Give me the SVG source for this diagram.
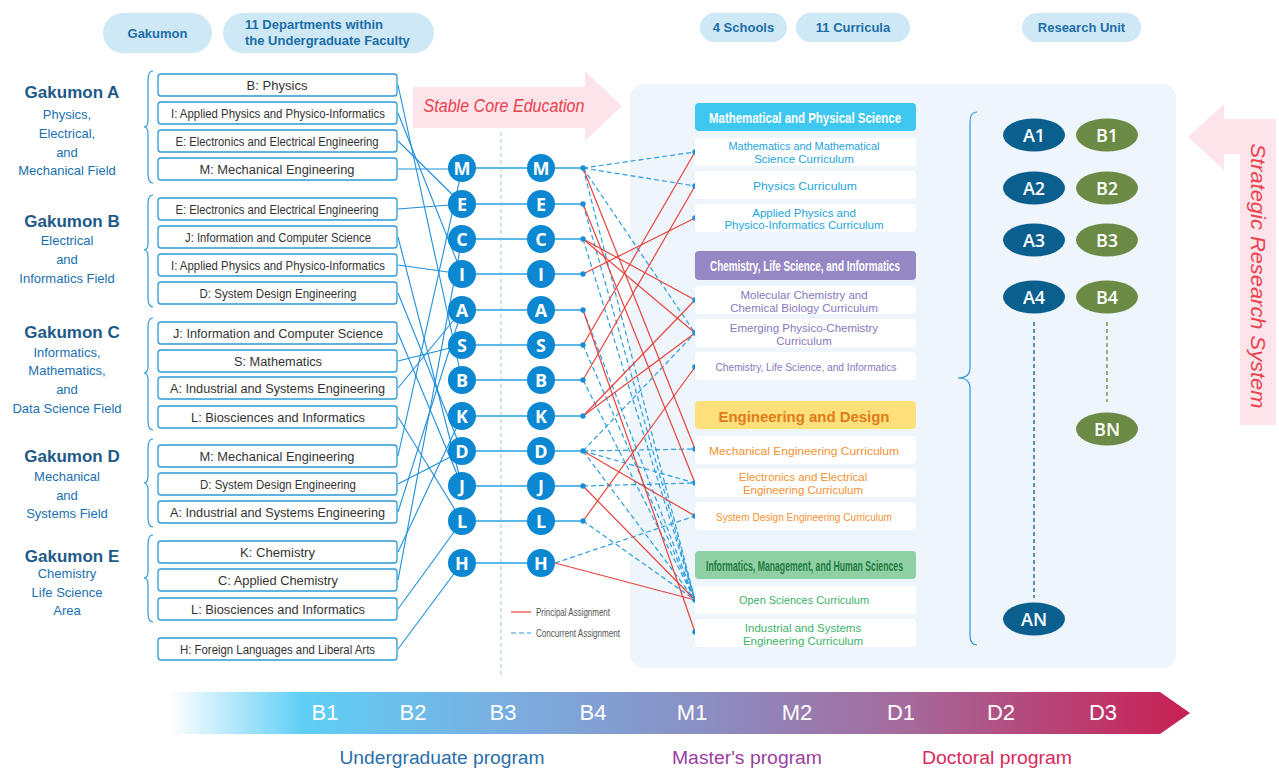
<svg xmlns="http://www.w3.org/2000/svg" width="1279" height="768" viewBox="0 0 1279 768">
<defs>
<style>
.pill{fill:#cfe8f5}
.pt{font-family:"Liberation Sans",Arial,sans-serif;font-weight:bold;font-size:13px;fill:#1a6ea8}
.gt{font-family:"Liberation Sans",Arial,sans-serif;font-weight:bold;font-size:17px;fill:#1e5a88;text-anchor:middle}
.gs{font-family:"Liberation Sans",Arial,sans-serif;font-size:13px;fill:#1a70b0;text-anchor:middle}
.brace{fill:none;stroke:#2a9ad8;stroke-width:1.2}
.box{fill:#fff;stroke:#2a9ad8;stroke-width:1.3}
.dt{font-family:"Liberation Sans",Arial,sans-serif;font-size:12.5px;fill:#333;text-anchor:middle}
.lk{stroke:#1e8fd8;stroke-width:1.1;fill:none}
.row{stroke:#5bb8e8;stroke-width:2;fill:none}
.red{stroke:#e8433f;stroke-width:1.2;fill:none}
.dash{stroke:#2a9de0;stroke-width:1.2;stroke-dasharray:5 3;fill:none}
.nd{fill:#0b88d1}
.nt{font-family:"Open Sans","Liberation Sans",sans-serif;font-weight:bold;font-size:18px;fill:#fff;text-anchor:middle}
.dot{fill:#1a8fd6}
.cb{fill:#fff}
.ct{font-family:"Liberation Sans",Arial,sans-serif;font-size:11.5px;text-anchor:middle}
.sh{font-family:"Liberation Sans",Arial,sans-serif;font-weight:bold;font-size:14px;text-anchor:middle}
.c1{fill:#1da5dc}.c2{fill:#8878bd}.c3{fill:#f39233}.c4{fill:#3cb36a}
.ea{fill:#0a5f8f}.eb{fill:#6a8a45}
.et{font-family:"Open Sans","Liberation Sans",sans-serif;font-weight:600;font-size:18px;fill:#fff;text-anchor:middle}
.tl{font-family:"Liberation Sans",Arial,sans-serif;font-size:22px;fill:#fff;text-anchor:middle}
.pg{font-family:"Liberation Sans",Arial,sans-serif;font-size:18px;text-anchor:middle}
.lg{font-family:"Liberation Sans",Arial,sans-serif;font-size:10px;fill:#555}
.ar{font-family:"Liberation Sans",Arial,sans-serif;font-style:italic;fill:#e8404a}
</style>
<linearGradient id="tg" gradientUnits="userSpaceOnUse" x1="170" y1="0" x2="1190" y2="0">
<stop offset="0" stop-color="#5fcff5" stop-opacity="0"/>
<stop offset="0.13" stop-color="#5fcff5"/>
<stop offset="0.33" stop-color="#7aaee0"/>
<stop offset="0.52" stop-color="#8a8fc4"/>
<stop offset="0.72" stop-color="#a56a9c"/>
<stop offset="1" stop-color="#c91f52"/>
</linearGradient>
</defs>
<rect width="1279" height="768" fill="#fff"/>

<!-- header pills -->
<g id="hdr-gakumon"><rect class="pill" x="103" y="13" width="109" height="40" rx="20"/><text class="pt" x="157.5" y="38" text-anchor="middle">Gakumon</text></g>
<g id="hdr-depts"><rect class="pill" x="223" y="13" width="211" height="40" rx="20"/><text class="pt" x="245" y="29">11 Departments within</text><text class="pt" x="245" y="45">the Undergraduate Faculty</text></g>
<g id="hdr-schools"><rect class="pill" x="700" y="13" width="87" height="29" rx="14.5"/><text class="pt" x="743.5" y="32" text-anchor="middle">4 Schools</text></g>
<g id="hdr-curricula"><rect class="pill" x="796" y="13" width="114" height="29" rx="14.5"/><text class="pt" x="853" y="32" text-anchor="middle">11 Curricula</text></g>
<g id="hdr-research"><rect class="pill" x="1022" y="13" width="119" height="29" rx="14.5"/><text class="pt" x="1081.5" y="32" text-anchor="middle">Research Unit</text></g>

<!-- arrows -->
<g id="stable-core"><polygon points="413,87 585,87 585,71 622,106 585,141 585,128 413,128" fill="#fde3ea"/><text class="ar" x="504" y="112" font-size="19" text-anchor="middle" textLength="161" lengthAdjust="spacingAndGlyphs">Stable Core Education</text></g>

<!-- big panel -->
<rect x="630" y="84" width="546" height="584" rx="14" fill="#eef6fb"/>

<g id="strategic"><polygon points="1188,137 1224,104 1224,119 1276,119 1276,425 1240,425 1240,154 1224,154 1224,170" fill="#fde3ea"/><text class="ar" transform="translate(1251,276) rotate(90)" font-size="21" text-anchor="middle" textLength="265" lengthAdjust="spacingAndGlyphs">Strategic Research System</text></g>

<!-- Gakumon labels -->
<g id="gakumon-a"><text class="gt" x="72" y="98">Gakumon A</text><text class="gs" x="67" y="119">Physics,</text><text class="gs" x="67" y="138">Electrical,</text><text class="gs" x="67" y="157">and</text><text class="gs" x="67" y="175">Mechanical Field</text>
<path class="brace" d="M153,71 Q148,71 148,80 L148,120 Q148,127 144,127 Q148,127 148,134 L148,174 Q148,183 153,183"/></g>
<g id="gakumon-b"><text class="gt" x="72" y="227">Gakumon B</text><text class="gs" x="67" y="245">Electrical</text><text class="gs" x="67" y="264">and</text><text class="gs" x="67" y="283">Informatics Field</text>
<path class="brace" d="M153,195 Q148,195 148,204 L148,243 Q148,250 144,250 Q148,250 148,257 L148,298 Q148,307 153,307"/></g>
<g id="gakumon-c"><text class="gt" x="72" y="338">Gakumon C</text><text class="gs" x="67" y="357">Informatics,</text><text class="gs" x="67" y="375">Mathematics,</text><text class="gs" x="67" y="394">and</text><text class="gs" x="67" y="413">Data Science Field</text>
<path class="brace" d="M153,318 Q148,318 148,327 L148,366 Q148,373 144,373 Q148,373 148,380 L148,421 Q148,430 153,430"/></g>
<g id="gakumon-d"><text class="gt" x="72" y="462">Gakumon D</text><text class="gs" x="67" y="481">Mechanical</text><text class="gs" x="67" y="500">and</text><text class="gs" x="67" y="518">Systems Field</text>
<path class="brace" d="M153,439 Q148,439 148,448 L148,476 Q148,483 144,483 Q148,483 148,490 L148,518 Q148,527 153,527"/></g>
<g id="gakumon-e"><text class="gt" x="72" y="562">Gakumon E</text><text class="gs" x="67" y="578">Chemistry</text><text class="gs" x="67" y="597">Life Science</text><text class="gs" x="67" y="615">Area</text>
<path class="brace" d="M153,535 Q148,535 148,544 L148,571 Q148,578 144,578 Q148,578 148,585 L148,613 Q148,622 153,622"/></g>

<!-- connectors -->
<g id="connectors">
<line class="lk" x1="398" y1="85" x2="462" y2="380"/>
<line class="lk" x1="398" y1="113" x2="462" y2="274"/>
<line class="lk" x1="398" y1="141" x2="462" y2="204"/>
<line class="lk" x1="398" y1="169" x2="462" y2="169"/>
<line class="lk" x1="398" y1="209" x2="462" y2="204"/>
<line class="lk" x1="398" y1="237" x2="462" y2="486"/>
<line class="lk" x1="398" y1="265" x2="462" y2="274"/>
<line class="lk" x1="398" y1="293" x2="462" y2="451"/>
<line class="lk" x1="398" y1="333" x2="462" y2="486"/>
<line class="lk" x1="398" y1="361" x2="462" y2="345"/>
<line class="lk" x1="398" y1="388" x2="462" y2="310"/>
<line class="lk" x1="398" y1="417" x2="462" y2="521"/>
<line class="lk" x1="398" y1="456" x2="462" y2="169"/>
<line class="lk" x1="398" y1="484" x2="462" y2="451"/>
<line class="lk" x1="398" y1="512" x2="462" y2="310"/>
<line class="lk" x1="398" y1="552" x2="462" y2="416"/>
<line class="lk" x1="398" y1="580" x2="462" y2="239"/>
<line class="lk" x1="398" y1="609" x2="462" y2="521"/>
<line class="lk" x1="398" y1="649" x2="462" y2="563"/>
<line x1="501" y1="132" x2="501" y2="676" stroke="#8fcbe8" stroke-width="1" stroke-dasharray="4 3"/>
<line class="row" x1="462" y1="168" x2="583" y2="168"/>
<line class="row" x1="462" y1="204" x2="583" y2="204"/>
<line class="row" x1="462" y1="239" x2="583" y2="239"/>
<line class="row" x1="462" y1="274" x2="583" y2="274"/>
<line class="row" x1="462" y1="310" x2="583" y2="310"/>
<line class="row" x1="462" y1="345" x2="583" y2="345"/>
<line class="row" x1="462" y1="380" x2="583" y2="380"/>
<line class="row" x1="462" y1="416" x2="583" y2="416"/>
<line class="row" x1="462" y1="451" x2="583" y2="451"/>
<line class="row" x1="462" y1="486" x2="583" y2="486"/>
<line class="row" x1="462" y1="521" x2="583" y2="521"/>
<line class="row" x1="462" y1="563" x2="541" y2="563"/>
<!-- concurrent -->
<line class="dash" x1="583" y1="168" x2="695" y2="152"/>
<line class="dash" x1="583" y1="168" x2="695" y2="186"/>
<line class="dash" x1="583" y1="168" x2="695" y2="333"/>
<line class="dash" x1="583" y1="168" x2="695" y2="600"/>
<line class="dash" x1="583" y1="204" x2="695" y2="600"/>
<line class="dash" x1="583" y1="239" x2="695" y2="600"/>
<line class="dash" x1="583" y1="310" x2="695" y2="600"/>
<line class="dash" x1="583" y1="345" x2="695" y2="600"/>
<line class="dash" x1="583" y1="380" x2="695" y2="600"/>
<line class="dash" x1="583" y1="451" x2="695" y2="333"/>
<line class="dash" x1="583" y1="451" x2="695" y2="449"/>
<line class="dash" x1="583" y1="451" x2="695" y2="483"/>
<line class="dash" x1="583" y1="451" x2="695" y2="600"/>
<line class="dash" x1="583" y1="486" x2="695" y2="483"/>
<line class="dash" x1="583" y1="521" x2="695" y2="600"/>
<line class="dash" x1="555" y1="563" x2="695" y2="516"/>
<!-- principal -->
<line class="red" x1="583" y1="168" x2="695" y2="449"/>
<line class="red" x1="583" y1="204" x2="695" y2="483"/>
<line class="red" x1="583" y1="239" x2="695" y2="300"/>
<line class="red" x1="583" y1="239" x2="695" y2="333"/>
<line class="red" x1="583" y1="274" x2="695" y2="218"/>
<line class="red" x1="583" y1="310" x2="695" y2="632"/>
<line class="red" x1="583" y1="345" x2="695" y2="152"/>
<line class="red" x1="583" y1="380" x2="695" y2="186"/>
<line class="red" x1="583" y1="416" x2="695" y2="300"/>
<line class="red" x1="583" y1="416" x2="695" y2="333"/>
<line class="red" x1="583" y1="451" x2="695" y2="516"/>
<line class="red" x1="583" y1="486" x2="695" y2="600"/>
<line class="red" x1="583" y1="521" x2="695" y2="367"/>
<line class="red" x1="555" y1="563" x2="695" y2="600"/>
<g class="dot">
<circle cx="583" cy="168" r="2.7"/><circle cx="583" cy="204" r="2.7"/><circle cx="583" cy="239" r="2.7"/><circle cx="583" cy="274" r="2.7"/><circle cx="583" cy="310" r="2.7"/><circle cx="583" cy="345" r="2.7"/><circle cx="583" cy="380" r="2.7"/><circle cx="583" cy="416" r="2.7"/><circle cx="583" cy="451" r="2.7"/><circle cx="583" cy="486" r="2.7"/><circle cx="583" cy="521" r="2.7"/>
<circle cx="695" cy="152" r="2.7"/><circle cx="695" cy="186" r="2.7"/><circle cx="695" cy="218" r="2.7"/><circle cx="695" cy="300" r="2.7"/><circle cx="695" cy="333" r="2.7"/><circle cx="695" cy="367" r="2.7"/><circle cx="695" cy="449" r="2.7"/><circle cx="695" cy="483" r="2.7"/><circle cx="695" cy="516" r="2.7"/><circle cx="695" cy="600" r="2.7"/><circle cx="695" cy="632" r="2.7"/>
</g>
</g>

<!-- department boxes -->
<g id="departments">
<g id="dep-a-b"><rect class="box" x="158" y="74" width="239" height="22" rx="3"/><text class="dt" x="277" y="89.5" textLength="61" lengthAdjust="spacingAndGlyphs">B: Physics</text></g>
<g id="dep-a-i"><rect class="box" x="158" y="102" width="239" height="22" rx="3"/><text class="dt" x="278" y="117.5" textLength="214" lengthAdjust="spacingAndGlyphs">I: Applied Physics and Physico-Informatics</text></g>
<g id="dep-a-e"><rect class="box" x="158" y="130" width="239" height="22" rx="3"/><text class="dt" x="277" y="145.5" textLength="203" lengthAdjust="spacingAndGlyphs">E: Electronics and Electrical Engineering</text></g>
<g id="dep-a-m"><rect class="box" x="158" y="158" width="239" height="22" rx="3"/><text class="dt" x="277" y="173.5" textLength="155" lengthAdjust="spacingAndGlyphs">M: Mechanical Engineering</text></g>
<g id="dep-b-e"><rect class="box" x="158" y="198" width="239" height="22" rx="3"/><text class="dt" x="277" y="213.5" textLength="203" lengthAdjust="spacingAndGlyphs">E: Electronics and Electrical Engineering</text></g>
<g id="dep-b-j"><rect class="box" x="158" y="226" width="239" height="22" rx="3"/><text class="dt" x="278" y="241.5" textLength="186" lengthAdjust="spacingAndGlyphs">J: Information and Computer Science</text></g>
<g id="dep-b-i"><rect class="box" x="158" y="254" width="239" height="22" rx="3"/><text class="dt" x="278" y="269.5" textLength="214" lengthAdjust="spacingAndGlyphs">I: Applied Physics and Physico-Informatics</text></g>
<g id="dep-b-d"><rect class="box" x="158" y="282" width="239" height="22" rx="3"/><text class="dt" x="278" y="297.5" textLength="157" lengthAdjust="spacingAndGlyphs">D: System Design Engineering</text></g>
<g id="dep-c-j"><rect class="box" x="158" y="322" width="239" height="22" rx="3"/><text class="dt" x="278" y="337.5" textLength="210" lengthAdjust="spacingAndGlyphs">J: Information and Computer Science</text></g>
<g id="dep-c-s"><rect class="box" x="158" y="350" width="239" height="22" rx="3"/><text class="dt" x="278" y="365.5" textLength="88" lengthAdjust="spacingAndGlyphs">S: Mathematics</text></g>
<g id="dep-c-a"><rect class="box" x="158" y="377" width="239" height="22" rx="3"/><text class="dt" x="277.5" y="392.5" textLength="215" lengthAdjust="spacingAndGlyphs">A: Industrial and Systems Engineering</text></g>
<g id="dep-c-l"><rect class="box" x="158" y="406" width="239" height="22" rx="3"/><text class="dt" x="278" y="421.5" textLength="174" lengthAdjust="spacingAndGlyphs">L: Biosciences and Informatics</text></g>
<g id="dep-d-m"><rect class="box" x="158" y="445" width="239" height="22" rx="3"/><text class="dt" x="277" y="460.5" textLength="155" lengthAdjust="spacingAndGlyphs">M: Mechanical Engineering</text></g>
<g id="dep-d-d"><rect class="box" x="158" y="473" width="239" height="22" rx="3"/><text class="dt" x="278" y="488.5" textLength="156" lengthAdjust="spacingAndGlyphs">D: System Design Engineering</text></g>
<g id="dep-d-a"><rect class="box" x="158" y="501" width="239" height="22" rx="3"/><text class="dt" x="277.5" y="516.5" textLength="215" lengthAdjust="spacingAndGlyphs">A: Industrial and Systems Engineering</text></g>
<g id="dep-e-k"><rect class="box" x="158" y="541" width="239" height="22" rx="3"/><text class="dt" x="277.5" y="556.5" textLength="75" lengthAdjust="spacingAndGlyphs">K: Chemistry</text></g>
<g id="dep-e-c"><rect class="box" x="158" y="569" width="239" height="22" rx="3"/><text class="dt" x="278" y="584.5" textLength="120" lengthAdjust="spacingAndGlyphs">C: Applied Chemistry</text></g>
<g id="dep-e-l"><rect class="box" x="158" y="598" width="239" height="22" rx="3"/><text class="dt" x="278" y="613.5" textLength="174" lengthAdjust="spacingAndGlyphs">L: Biosciences and Informatics</text></g>
<g id="dep-h"><rect class="box" x="158" y="638" width="239" height="22" rx="3"/><text class="dt" x="277.5" y="653.5" textLength="195" lengthAdjust="spacingAndGlyphs">H: Foreign Languages and Liberal Arts</text></g>
</g>

<!-- department nodes -->
<g id="nodes-left">
<g id="n1-M"><circle class="nd" cx="462" cy="168" r="14"/><text class="nt" x="462" y="174.5">M</text></g>
<g id="n1-E"><circle class="nd" cx="462" cy="204" r="14"/><text class="nt" x="462" y="210.5">E</text></g>
<g id="n1-C"><circle class="nd" cx="462" cy="239" r="14"/><text class="nt" x="462" y="245.5">C</text></g>
<g id="n1-I"><circle class="nd" cx="462" cy="274" r="14"/><text class="nt" x="462" y="280.5">I</text></g>
<g id="n1-A"><circle class="nd" cx="462" cy="310" r="14"/><text class="nt" x="462" y="316.5">A</text></g>
<g id="n1-S"><circle class="nd" cx="462" cy="345" r="14"/><text class="nt" x="462" y="351.5">S</text></g>
<g id="n1-B"><circle class="nd" cx="462" cy="380" r="14"/><text class="nt" x="462" y="386.5">B</text></g>
<g id="n1-K"><circle class="nd" cx="462" cy="416" r="14"/><text class="nt" x="462" y="422.5">K</text></g>
<g id="n1-D"><circle class="nd" cx="462" cy="451" r="14"/><text class="nt" x="462" y="457.5">D</text></g>
<g id="n1-J"><circle class="nd" cx="462" cy="486" r="14"/><text class="nt" x="462" y="492.5">J</text></g>
<g id="n1-L"><circle class="nd" cx="462" cy="521" r="14"/><text class="nt" x="462" y="527.5">L</text></g>
<g id="n1-H"><circle class="nd" cx="462" cy="563" r="14"/><text class="nt" x="462" y="569.5">H</text></g>
</g>
<g id="nodes-mid">
<g id="n2-M"><circle class="nd" cx="541" cy="168" r="14"/><text class="nt" x="541" y="174.5">M</text></g>
<g id="n2-E"><circle class="nd" cx="541" cy="204" r="14"/><text class="nt" x="541" y="210.5">E</text></g>
<g id="n2-C"><circle class="nd" cx="541" cy="239" r="14"/><text class="nt" x="541" y="245.5">C</text></g>
<g id="n2-I"><circle class="nd" cx="541" cy="274" r="14"/><text class="nt" x="541" y="280.5">I</text></g>
<g id="n2-A"><circle class="nd" cx="541" cy="310" r="14"/><text class="nt" x="541" y="316.5">A</text></g>
<g id="n2-S"><circle class="nd" cx="541" cy="345" r="14"/><text class="nt" x="541" y="351.5">S</text></g>
<g id="n2-B"><circle class="nd" cx="541" cy="380" r="14"/><text class="nt" x="541" y="386.5">B</text></g>
<g id="n2-K"><circle class="nd" cx="541" cy="416" r="14"/><text class="nt" x="541" y="422.5">K</text></g>
<g id="n2-D"><circle class="nd" cx="541" cy="451" r="14"/><text class="nt" x="541" y="457.5">D</text></g>
<g id="n2-J"><circle class="nd" cx="541" cy="486" r="14"/><text class="nt" x="541" y="492.5">J</text></g>
<g id="n2-L"><circle class="nd" cx="541" cy="521" r="14"/><text class="nt" x="541" y="527.5">L</text></g>
<g id="n2-H"><circle class="nd" cx="541" cy="563" r="14"/><text class="nt" x="541" y="569.5">H</text></g>
</g>

<!-- legend -->
<g id="legend">
<line x1="511" y1="612" x2="531" y2="612" stroke="#e8433f" stroke-width="1.2"/>
<text class="lg" x="536" y="615.5" textLength="74" lengthAdjust="spacingAndGlyphs">Principal Assignment</text>
<line x1="511" y1="633" x2="531" y2="633" class="dash"/>
<text class="lg" x="536" y="637" textLength="84" lengthAdjust="spacingAndGlyphs">Concurrent Assignment</text>
</g>

<!-- schools and curricula -->
<g id="school-mps"><rect x="695" y="103" width="221" height="28" rx="4" fill="#3ec8f0"/><text class="sh" x="805" y="122.5" fill="#fff" textLength="192" lengthAdjust="spacingAndGlyphs">Mathematical and Physical Science</text></g>
<g id="cur-math"><rect class="cb" x="695" y="138" width="221" height="28" rx="4"/><text class="ct c1" x="804" y="150" textLength="151" lengthAdjust="spacingAndGlyphs">Mathematics and Mathematical</text><text class="ct c1" x="804" y="163">Science Curriculum</text></g>
<g id="cur-phys"><rect class="cb" x="695" y="171" width="221" height="28" rx="4"/><text class="ct c1" x="805" y="190" font-size="12.5" textLength="104" lengthAdjust="spacingAndGlyphs">Physics Curriculum</text></g>
<g id="cur-apphys"><rect class="cb" x="695" y="204" width="221" height="28" rx="4"/><text class="ct c1" x="804" y="217">Applied Physics and</text><text class="ct c1" x="804" y="229">Physico-Informatics Curriculum</text></g>

<g id="school-cli"><rect x="695" y="251" width="221" height="29" rx="4" fill="#9587c4"/><text class="sh" x="805" y="271" fill="#fff" textLength="190" lengthAdjust="spacingAndGlyphs">Chemistry, Life Science, and Informatics</text></g>
<g id="cur-mol"><rect class="cb" x="695" y="286" width="221" height="28" rx="4"/><text class="ct c2" x="804" y="299">Molecular Chemistry and</text><text class="ct c2" x="804" y="312">Chemical Biology Curriculum</text></g>
<g id="cur-emer"><rect class="cb" x="695" y="319" width="221" height="28" rx="4"/><text class="ct c2" x="804" y="332">Emerging Physico-Chemistry</text><text class="ct c2" x="804" y="345">Curriculum</text></g>
<g id="cur-clsi"><rect class="cb" x="695" y="352" width="221" height="28" rx="4"/><text class="ct c2" x="806" y="371" font-size="11" textLength="181" lengthAdjust="spacingAndGlyphs">Chemistry, Life Science, and Informatics</text></g>

<g id="school-ed"><rect x="695" y="401" width="221" height="28" rx="4" fill="#fde07a"/><text class="sh" x="804" y="421.5" fill="#e07b1a" font-size="16" textLength="171" lengthAdjust="spacingAndGlyphs">Engineering and Design</text></g>
<g id="cur-mech"><rect class="cb" x="695" y="436" width="221" height="28" rx="4"/><text class="ct c3" x="804" y="455" font-size="12.5" textLength="190" lengthAdjust="spacingAndGlyphs">Mechanical Engineering Curriculum</text></g>
<g id="cur-elec"><rect class="cb" x="695" y="469" width="221" height="28" rx="4"/><text class="ct c3" x="803" y="481">Electronics and Electrical</text><text class="ct c3" x="803" y="494">Engineering Curriculum</text></g>
<g id="cur-sysd"><rect class="cb" x="695" y="502" width="221" height="28" rx="4"/><text class="ct c3" x="804" y="521" font-size="11.5" textLength="176" lengthAdjust="spacingAndGlyphs">System Design Engineering Curriculum</text></g>

<g id="school-imh"><rect x="695" y="551" width="221" height="28" rx="4" fill="#8fd1a5"/><text class="sh" x="804.5" y="570.5" fill="#1f7a3f" textLength="197" lengthAdjust="spacingAndGlyphs">Informatics, Management, and Human Sciences</text></g>
<g id="cur-open"><rect class="cb" x="695" y="586" width="221" height="28" rx="4"/><text class="ct c4" x="804" y="604" font-size="12" textLength="130" lengthAdjust="spacingAndGlyphs">Open Sciences Curriculum</text></g>
<g id="cur-ind"><rect class="cb" x="695" y="619" width="221" height="28" rx="4"/><text class="ct c4" x="803" y="632">Industrial and Systems</text><text class="ct c4" x="803" y="645">Engineering Curriculum</text></g>

<!-- research units -->
<path class="brace" d="M977,112 Q970,112 970,122 L970,368 Q970,378 958,378 Q970,378 970,388 L970,635 Q970,645 977,645"/>
<line x1="1034" y1="322" x2="1034" y2="598" stroke="#0a5f8f" stroke-width="1.3" stroke-dasharray="4 3"/>
<line x1="1107" y1="322" x2="1107" y2="402" stroke="#6a8a45" stroke-width="1.3" stroke-dasharray="4 3"/>
<g id="ru-A1"><ellipse class="ea" cx="1034" cy="135" rx="31" ry="16.5"/><text class="et" x="1034" y="141.5">A1</text></g>
<g id="ru-A2"><ellipse class="ea" cx="1034" cy="188" rx="31" ry="16.5"/><text class="et" x="1034" y="194.5">A2</text></g>
<g id="ru-A3"><ellipse class="ea" cx="1034" cy="240" rx="31" ry="16.5"/><text class="et" x="1034" y="246.5">A3</text></g>
<g id="ru-A4"><ellipse class="ea" cx="1034" cy="297" rx="31" ry="16.5"/><text class="et" x="1034" y="303.5">A4</text></g>
<g id="ru-AN"><ellipse class="ea" cx="1034" cy="619" rx="31" ry="16.5"/><text class="et" x="1034" y="625.5">AN</text></g>
<g id="ru-B1"><ellipse class="eb" cx="1107" cy="135" rx="31" ry="16.5"/><text class="et" x="1107" y="141.5">B1</text></g>
<g id="ru-B2"><ellipse class="eb" cx="1107" cy="188" rx="31" ry="16.5"/><text class="et" x="1107" y="194.5">B2</text></g>
<g id="ru-B3"><ellipse class="eb" cx="1107" cy="240" rx="31" ry="16.5"/><text class="et" x="1107" y="246.5">B3</text></g>
<g id="ru-B4"><ellipse class="eb" cx="1107" cy="297" rx="31" ry="16.5"/><text class="et" x="1107" y="303.5">B4</text></g>
<g id="ru-BN"><ellipse class="eb" cx="1107" cy="429" rx="31" ry="16.5"/><text class="et" x="1107" y="435.5">BN</text></g>

<!-- timeline -->
<g id="timeline">
<polygon points="170,692 1160,692 1190,713 1160,734 170,734" fill="url(#tg)"/>
<text class="tl" x="325" y="720">B1</text>
<text class="tl" x="413" y="720">B2</text>
<text class="tl" x="503" y="720">B3</text>
<text class="tl" x="593" y="720">B4</text>
<text class="tl" x="692" y="720">M1</text>
<text class="tl" x="797" y="720">M2</text>
<text class="tl" x="901" y="720">D1</text>
<text class="tl" x="1001" y="720">D2</text>
<text class="tl" x="1103" y="720">D3</text>
<text class="pg" x="442" y="764" fill="#2a6faa" textLength="205" lengthAdjust="spacingAndGlyphs">Undergraduate program</text>
<text class="pg" x="747" y="764" fill="#9a3fa0" textLength="150" lengthAdjust="spacingAndGlyphs">Master's program</text>
<text class="pg" x="997" y="764" fill="#d9295a" textLength="150" lengthAdjust="spacingAndGlyphs">Doctoral program</text>
</g>
</svg>
